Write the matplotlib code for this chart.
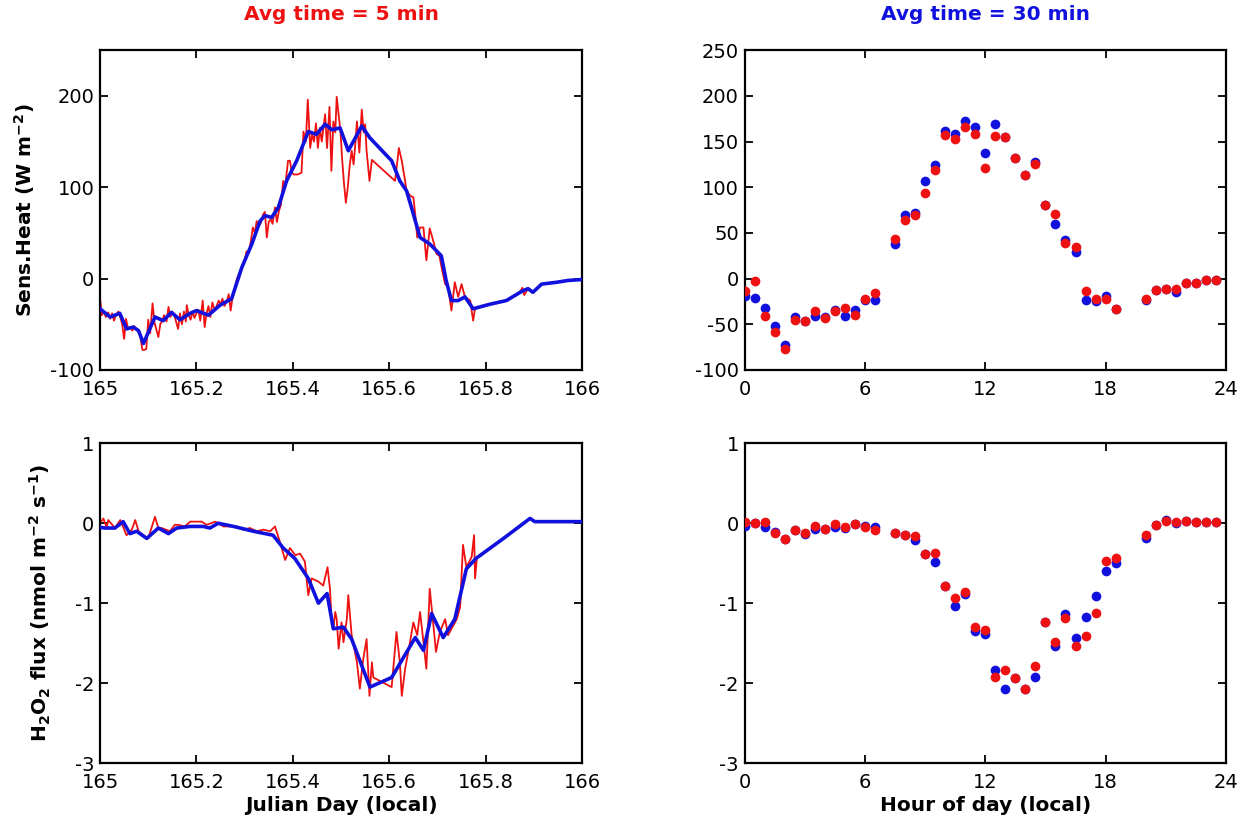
"""
Sensible heat and H2O2 flux - 5 min vs 30 min averaging
"""

import matplotlib
matplotlib.use("Agg")
import matplotlib.pyplot as plt

# ─────────────────────────────────────────────
#  Data
# ─────────────────────────────────────────────
DAY0 = 165.0

# --- sensible heat, 5-min (red) : day offset from 165, W m-2
heat5_day = [
    0.000, 0.004, 0.008, 0.012, 0.017, 0.021, 0.025, 0.029, 0.033, 0.038,
    0.042, 0.046, 0.050, 0.054, 0.058, 0.063, 0.067, 0.071, 0.075, 0.079,
    0.083, 0.088, 0.092, 0.096, 0.100, 0.104, 0.109, 0.113, 0.121, 0.125,
    0.129, 0.133, 0.138, 0.142, 0.146, 0.150, 0.154, 0.162, 0.166, 0.170,
    0.174, 0.178, 0.180, 0.184, 0.188, 0.192, 0.196, 0.200, 0.204, 0.208,
    0.213, 0.217, 0.221, 0.225, 0.229, 0.233, 0.238, 0.242, 0.246, 0.250,
    0.254, 0.258, 0.263, 0.267, 0.271, 0.275, 0.279, 0.283, 0.288, 0.292,
    0.296, 0.300, 0.304, 0.308, 0.313, 0.317, 0.321, 0.325, 0.329, 0.333,
    0.338, 0.342, 0.346, 0.350, 0.354, 0.358, 0.363, 0.367, 0.371, 0.375,
    0.380, 0.384, 0.390, 0.394, 0.398, 0.402, 0.410, 0.418, 0.422, 0.427,
    0.431, 0.436, 0.440, 0.444, 0.448, 0.452, 0.456, 0.460, 0.467, 0.471,
    0.476, 0.480, 0.484, 0.488, 0.491, 0.495, 0.499, 0.502, 0.506, 0.510,
    0.514, 0.518, 0.522, 0.526, 0.530, 0.533, 0.538, 0.543, 0.547, 0.550,
    0.553, 0.559, 0.564, 0.612, 0.620, 0.626, 0.632, 0.636, 0.643, 0.650,
    0.654, 0.658, 0.664, 0.671, 0.677, 0.684, 0.693, 0.698, 0.704, 0.709,
    0.716, 0.722, 0.729, 0.736, 0.743, 0.750, 0.757, 0.768, 0.774, 0.778,
    0.809, 0.843, 0.872, 0.876, 0.880, 0.888, 0.898, 0.916, 0.947, 0.971,
    0.999,
]
heat5_val = [
    -22, -40, -36, -42, -37, -44, -38, -46, -40, -36,
    -42, -50, -66, -44, -55, -53, -57, -52, -55, -58,
    -62, -78, -78, -77, -45, -60, -27, -48, -64, -50,
    -46, -40, -47, -31, -42, -36, -40, -55, -38, -50,
    -36, -47, -29, -40, -45, -36, -43, -38, -34, -46,
    -24, -53, -38, -30, -42, -26, -35, -30, -24, -28,
    -22, -30, -25, -17, -35, -20, -12, -2, 5, 8,
    16, 20, 30, 28, 41, 56, 50, 63, 58, 60,
    70, 73, 45, 62, 65, 60, 78, 62, 74, 80,
    107, 100, 129, 129, 116, 114, 114, 116, 161, 150,
    196, 143, 158, 150, 170, 143, 165, 150, 180, 143,
    188, 118, 172, 160, 199, 180, 160, 133, 105, 83,
    100, 124, 140, 125, 150, 172, 138, 185, 160, 169,
    140, 107, 130, 107, 143, 129, 110, 96, 91, 89,
    70, 45, 56, 56, 20, 55, 38, 27, 25, 11,
    -6, -9, -35, -4, -20, -6, -20, -24, -46, -33,
    -28, -24, -14, -10, -18, -11, -15, -6, -4, -2,
    -1,
]

# --- sensible heat, 30-min (blue)
heat30_day = [
    0.000, 0.021, 0.041, 0.055, 0.069, 0.080, 0.090, 0.114, 0.131, 0.148,
    0.166, 0.187, 0.200, 0.225, 0.249, 0.273, 0.294, 0.315, 0.332, 0.342,
    0.356, 0.370, 0.387, 0.408, 0.432, 0.449, 0.467, 0.481, 0.498, 0.515,
    0.543, 0.560, 0.605, 0.622, 0.636, 0.646, 0.664, 0.684, 0.708, 0.718,
    0.729, 0.743, 0.757, 0.774, 0.809, 0.843, 0.878, 0.888, 0.898, 0.916,
    0.947, 0.971, 0.999,
]
heat30_val = [
    -33, -42, -38, -55, -53, -57, -71, -42, -46, -37,
    -45, -38, -35, -40, -29, -22, 12, 38, 63, 69,
    67, 78, 107, 129, 161, 158, 169, 163, 165, 140,
    167, 154, 129, 107, 96, 78, 45, 38, 25, -2,
    -24, -24, -20, -33, -28, -24, -13, -11, -15, -6,
    -4, -2, -1,
]

# --- H2O2 flux, 5-min (red) : nmol m-2 s-1
h2o2_5_day = [
    0.000, 0.007, 0.014, 0.017, 0.031, 0.042, 0.055, 0.066, 0.073, 0.080,
    0.090, 0.100, 0.114, 0.121, 0.128, 0.145, 0.155, 0.163, 0.176, 0.187,
    0.200, 0.211, 0.221, 0.239, 0.256, 0.270, 0.284, 0.297, 0.311, 0.325,
    0.339, 0.353, 0.363, 0.373, 0.384, 0.394, 0.405, 0.415, 0.425, 0.432,
    0.439, 0.453, 0.463, 0.472, 0.477, 0.481, 0.484, 0.488, 0.491, 0.495,
    0.501, 0.505, 0.512, 0.515, 0.522, 0.533, 0.539, 0.546, 0.553, 0.559,
    0.564, 0.567, 0.605, 0.615, 0.622, 0.626, 0.633, 0.643, 0.650, 0.658,
    0.664, 0.671, 0.677, 0.684, 0.691, 0.697, 0.705, 0.716, 0.722, 0.740,
    0.747, 0.753, 0.760, 0.771, 0.776, 0.778, 0.782, 0.837, 0.892, 0.902,
    0.947, 1.000,
]
h2o2_5_val = [
    0.00, 0.06, -0.06, 0.04, -0.06, 0.04, -0.15, -0.08, 0.04, -0.10,
    -0.15, -0.19, 0.08, -0.06, -0.06, -0.10, -0.02, -0.02, -0.04, 0.02,
    0.02, 0.02, -0.02, 0.02, -0.04, -0.04, -0.04, -0.08, -0.06, -0.10,
    -0.08, -0.10, -0.04, -0.23, -0.46, -0.31, -0.40, -0.38, -0.48, -0.90,
    -0.69, -0.73, -0.78, -0.55, -0.82, -1.28, -1.32, -1.11, -1.20, -1.57,
    -1.24, -1.49, -1.20, -0.90, -1.40, -1.74, -2.07, -1.70, -1.45, -2.16,
    -1.74, -1.93, -2.05, -1.36, -1.74, -2.16, -1.82, -1.49, -1.24, -1.40,
    -1.11, -1.49, -1.82, -0.82, -1.24, -1.61, -1.36, -1.20, -1.40, -1.20,
    -1.05, -0.27, -0.55, -0.42, -0.15, -0.69, -0.43, -0.19, 0.06, 0.02,
    0.02, 0.02,
]

# --- H2O2 flux, 30-min (blue)
h2o2_30_day = [
    0.000, 0.010, 0.031, 0.048, 0.062, 0.076, 0.097, 0.121, 0.142, 0.159,
    0.187, 0.214, 0.228, 0.245, 0.277, 0.318, 0.359, 0.380, 0.404, 0.432,
    0.453, 0.471, 0.484, 0.505, 0.522, 0.560, 0.605, 0.654, 0.671, 0.688,
    0.712, 0.736, 0.760, 0.780, 0.837, 0.892, 0.902, 0.947, 1.000,
]
h2o2_30_val = [
    -0.05, -0.06, -0.06, 0.02, -0.13, -0.10, -0.19, -0.06, -0.13, -0.06,
    -0.04, -0.04, -0.06, 0.00, -0.04, -0.10, -0.15, -0.31, -0.44, -0.69,
    -1.00, -0.88, -1.32, -1.30, -1.45, -2.05, -1.93, -1.43, -1.59, -1.13,
    -1.43, -1.20, -0.57, -0.44, -0.19, 0.06, 0.02, 0.02, 0.02,
]

# --- diurnal composites vs hour of day
hours = [
    0, 0.5, 1, 1.5, 2, 2.5, 3, 3.5, 4, 4.5, 5, 5.5, 6, 6.5,
    7.5, 8, 8.5, 9, 9.5, 10, 10.5, 11, 11.5, 12, 12.5, 13, 13.5, 14, 14.5,
    15, 15.5, 16, 16.5, 17, 17.5, 18, 18.5,
    20, 20.5, 21, 21.5, 22, 22.5, 23, 23.5,
]
heat_hr_red = [
    -13, -3, -41, -58, -77, -45, -46, -35, -43, -35, -32, -40, -22, -16,
    43, 64, 70, 94, 119, 157, 153, 166, 158, 121, 156, 155, 132, 113, 125,
    81, 71, 39, 35, -13, -22, -22, -33,
    -22, -12, -11, -11, -5, -5, -1, -1,
]
heat_hr_blue = [
    -19, -21, -32, -52, -73, -42, -46, -41, -42, -34, -41, -34, -23, -23,
    38, 70, 72, 107, 124, 162, 158, 173, 166, 137, 169, 155, 132, 113, 128,
    81, 60, 42, 29, -23, -25, -19, -33,
    -23, -12, -11, -15, -5, -5, -1, -1,
]
h2o2_hr_red = [
    0.02, 0.00, 0.01, -0.12, -0.20, -0.08, -0.12, -0.03, -0.07, -0.01,
    -0.05, -0.01, -0.05, -0.08,
    -0.12, -0.15, -0.16, -0.38, -0.37, -0.78, -0.94, -0.86, -1.30, -1.33,
    -1.92, -1.83, -1.94, -2.07, -1.78,
    -1.23, -1.48, -1.18, -1.53, -1.41, -1.12, -0.47, -0.44,
    -0.15, -0.02, 0.03, 0.02, 0.03, 0.01, 0.02, 0.01,
]
h2o2_hr_blue = [
    -0.03, 0.00, -0.05, -0.11, -0.20, -0.08, -0.13, -0.07, -0.07, -0.05,
    -0.06, -0.01, -0.04, -0.05,
    -0.12, -0.15, -0.21, -0.39, -0.49, -0.78, -1.03, -0.89, -1.35, -1.39,
    -1.83, -2.07, -1.94, -2.07, -1.92,
    -1.23, -1.53, -1.13, -1.44, -1.17, -0.91, -0.60, -0.50,
    -0.19, -0.02, 0.04, 0.00, 0.03, 0.01, 0.02, 0.01,
]

# ─────────────────────────────────────────────
#  Style
# ─────────────────────────────────────────────
RED  = "#ee1111"
BLUE = "#1111dd"
TICK_FS  = 14
LABEL_FS = 14.5
MS = 7

plt.rcParams["font.family"] = "DejaVu Sans"
plt.rcParams["mathtext.fontset"] = "dejavusans"
plt.rcParams["axes.unicode_minus"] = False   # plain hyphen like the original


def style_axes(ax):
    for spine in ax.spines.values():
        spine.set_linewidth(1.6)
    ax.tick_params(direction="in", top=True, right=True, length=6,
                   width=1.3, labelsize=TICK_FS)
    ax.tick_params(axis="y", pad=4)
    ax.tick_params(axis="x", pad=7)


fig = plt.figure(figsize=(12.44, 8.24), dpi=100, facecolor="white")

ax_hl = fig.add_axes([0.0804, 0.551, 0.3875, 0.388])
ax_hr = fig.add_axes([0.5985, 0.551, 0.3870, 0.388])
ax_fl = fig.add_axes([0.0804, 0.074, 0.3875, 0.388])
ax_fr = fig.add_axes([0.5985, 0.074, 0.3870, 0.388])

day_ticks = [165, 165.2, 165.4, 165.6, 165.8, 166]
day_labels = ["165", "165.2", "165.4", "165.6", "165.8", "166"]

# ---- left column: time series ----
ax_hl.plot([DAY0 + d for d in heat5_day], heat5_val, color=RED, lw=1.3, zorder=2)
ax_hl.plot([DAY0 + d for d in heat30_day], heat30_val, color=BLUE, lw=2.6, zorder=3)
ax_hl.set_ylim(-100, 250)
ax_hl.set_yticks([-100, 0, 100, 200])

ax_fl.plot([DAY0 + d for d in h2o2_5_day], h2o2_5_val, color=RED, lw=1.3, zorder=2)
ax_fl.plot([DAY0 + d for d in h2o2_30_day], h2o2_30_val, color=BLUE, lw=2.6, zorder=3)
ax_fl.set_ylim(-3, 1)
ax_fl.set_yticks([-3, -2, -1, 0, 1])

for ax in (ax_hl, ax_fl):
    ax.set_xlim(165, 166)
    ax.set_xticks(day_ticks)
    ax.set_xticklabels(day_labels)
    style_axes(ax)

# ---- right column: diurnal scatter ----
ax_hr.plot(hours, heat_hr_blue, "o", color=BLUE, ms=MS, mec="none", zorder=3)
ax_hr.plot(hours, heat_hr_red, "o", color=RED, ms=MS, mec="none", zorder=4)
ax_hr.set_ylim(-100, 250)
ax_hr.set_yticks(range(-100, 251, 50))

ax_fr.plot(hours, h2o2_hr_blue, "o", color=BLUE, ms=MS, mec="none", zorder=3)
ax_fr.plot(hours, h2o2_hr_red, "o", color=RED, ms=MS, mec="none", zorder=4)
ax_fr.set_ylim(-3, 1)
ax_fr.set_yticks([-3, -2, -1, 0, 1])

for ax in (ax_hr, ax_fr):
    ax.set_xlim(0, 24)
    ax.set_xticks([0, 6, 12, 18, 24])
    style_axes(ax)

# ---- titles & labels ----
ax_hl.set_title("Avg time = 5 min", color=RED, fontsize=LABEL_FS,
                fontweight="bold", pad=22)
ax_hr.set_title("Avg time = 30 min", color=BLUE, fontsize=LABEL_FS,
                fontweight="bold", pad=22)

ax_hl.set_ylabel(r"Sens.Heat (W m$^{\mathbf{-2}}$)", fontsize=LABEL_FS,
                 fontweight="bold", labelpad=10)
ax_fl.set_ylabel(r"H$_\mathbf{2}$O$_\mathbf{2}$ flux (nmol m$^{\mathbf{-2}}$ s$^{\mathbf{-1}}$)",
                 fontsize=LABEL_FS, fontweight="bold", labelpad=16)
ax_fl.set_xlabel("Julian Day (local)", fontsize=LABEL_FS, fontweight="bold", labelpad=3)
ax_fr.set_xlabel("Hour of day (local)", fontsize=LABEL_FS, fontweight="bold", labelpad=3)

fig.savefig("out.png", dpi=100, facecolor="white")
